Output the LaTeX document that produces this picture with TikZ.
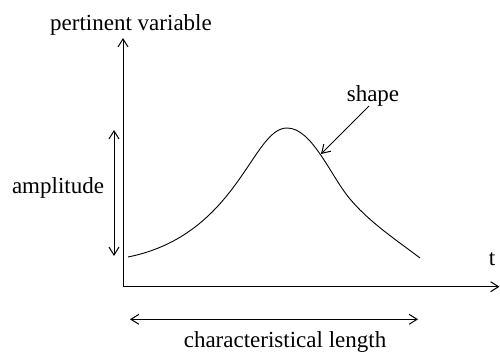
\documentclass[tikz,border=0pt]{standalone}
\usepackage{fontspec}
\setmainfont{Liberation Serif}
\usetikzlibrary{arrows.meta}
\begin{document}
\begin{tikzpicture}[x=1pt,y=-1pt,
  lbl/.style={inner sep=0pt,font=\fontsize{23}{27}\selectfont},
  axisline/.style={line width=1pt,-{Straight Barb[length=8pt,width=10pt,line width=1pt]}},
  dimline/.style={line width=1pt,{Straight Barb[length=8pt,width=10pt,line width=1pt]}-{Straight Barb[length=8pt,width=10pt,line width=1pt]}},
  curveline/.style={line width=0.9pt}]
\useasboundingbox (0,0) rectangle (500,353);
% axes
\coordinate (O) at (123,286.7);
\coordinate (ytip) at (123,38);
\coordinate (xtip) at (499.5,286.7);
\draw[axisline] (O) -- (ytip);
\draw[axisline] (O) -- (xtip);
% labels
\node[lbl,anchor=base] (pv) at (131,31) {pertinent variable};
\node[lbl,anchor=base] (t) at (492,265) {t};
\node[lbl,anchor=base] (amp) at (58,193) {amplitude};
\node[lbl,anchor=base] (shape) at (373,101) {shape};
\node[lbl,anchor=base] (cl) at (285,347.5) {characteristical length};
% amplitude arrow
\coordinate (ampTop) at (114,130);
\coordinate (ampBot) at (114,256);
\draw[dimline] (ampBot) -- (ampTop);
% characteristic length arrow
\coordinate (clL) at (130,319.3);
\coordinate (clR) at (418,319.3);
\draw[dimline] (clL) -- (clR);
% curve
\coordinate (cStart) at (128,257);
\coordinate (cPeak) at (287,128);
\coordinate (cMid) at (350,199);
\coordinate (cEnd) at (420,258);
\draw[curveline] (cStart) .. controls (238,235) and (252,128) .. (cPeak)
  .. controls (312,128) and (330,175) .. (cMid)
  .. controls (370,223) and (400,242.6) .. (cEnd);
% shape arrow
\coordinate (shStart) at (369,106);
\coordinate (shTip) at (321,154);
\draw[axisline] (shStart) -- (shTip);
\end{tikzpicture}
\end{document}
